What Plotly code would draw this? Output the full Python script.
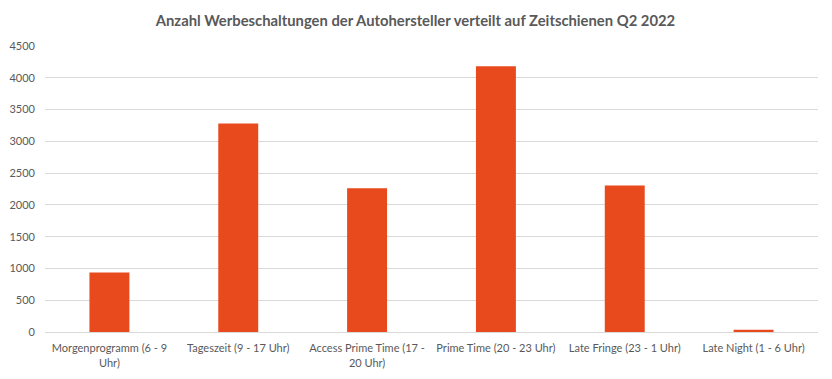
import plotly.graph_objects as go

categories = [
    "Morgenprogramm (6 - 9<br>Uhr)",
    "Tageszeit (9 - 17 Uhr)",
    "Access Prime Time (17 -<br>20 Uhr)",
    "Prime Time (20 - 23 Uhr)",
    "Late Fringe (23 - 1 Uhr)",
    "Late Night (1 - 6 Uhr)",
]
values = [935, 3280, 2260, 4180, 2305, 35]
title_text = "Anzahl Werbeschaltungen der Autohersteller verteilt auf Zeitschienen Q2 2022"

fig = go.Figure(
    go.Bar(x=categories, y=values, marker=dict(color="#E84A1E", line=dict(width=0)))
)
fig.update_layout(
    width=824,
    height=371,
    margin=dict(l=37, r=14, t=38, b=47, autoexpand=False),
    paper_bgcolor="white",
    plot_bgcolor="white",
    bargap=0.69,
    showlegend=False,
    font=dict(family="Lato, Open Sans, sans-serif", size=11, color="#595959"),
    title=dict(
        text=title_text,
        x=0.4945,
        xanchor="center",
        xref="container",
        y=0.965,
        yanchor="middle",
        font=dict(family="Lato, Open Sans, sans-serif", size=14.8, color="#595959", weight="bold"),
    ),
)
fig.update_yaxes(
    range=[0, 4500],
    dtick=500,
    showgrid=True,
    gridcolor="#D9D9D9",
    gridwidth=1,
    zeroline=False,
    showline=False,
    ticks="",
    automargin=False,
    ticklabelstandoff=9,
    tickfont=dict(size=11, color="#595959"),
)
fig.update_xaxes(
    showline=True,
    linecolor="#D9D9D9",
    linewidth=1,
    ticks="",
    tickangle=0,
    automargin=False,
    ticklabelstandoff=6,
    tickfont=dict(size=11, color="#595959"),
)
fig.write_html("out.html")
